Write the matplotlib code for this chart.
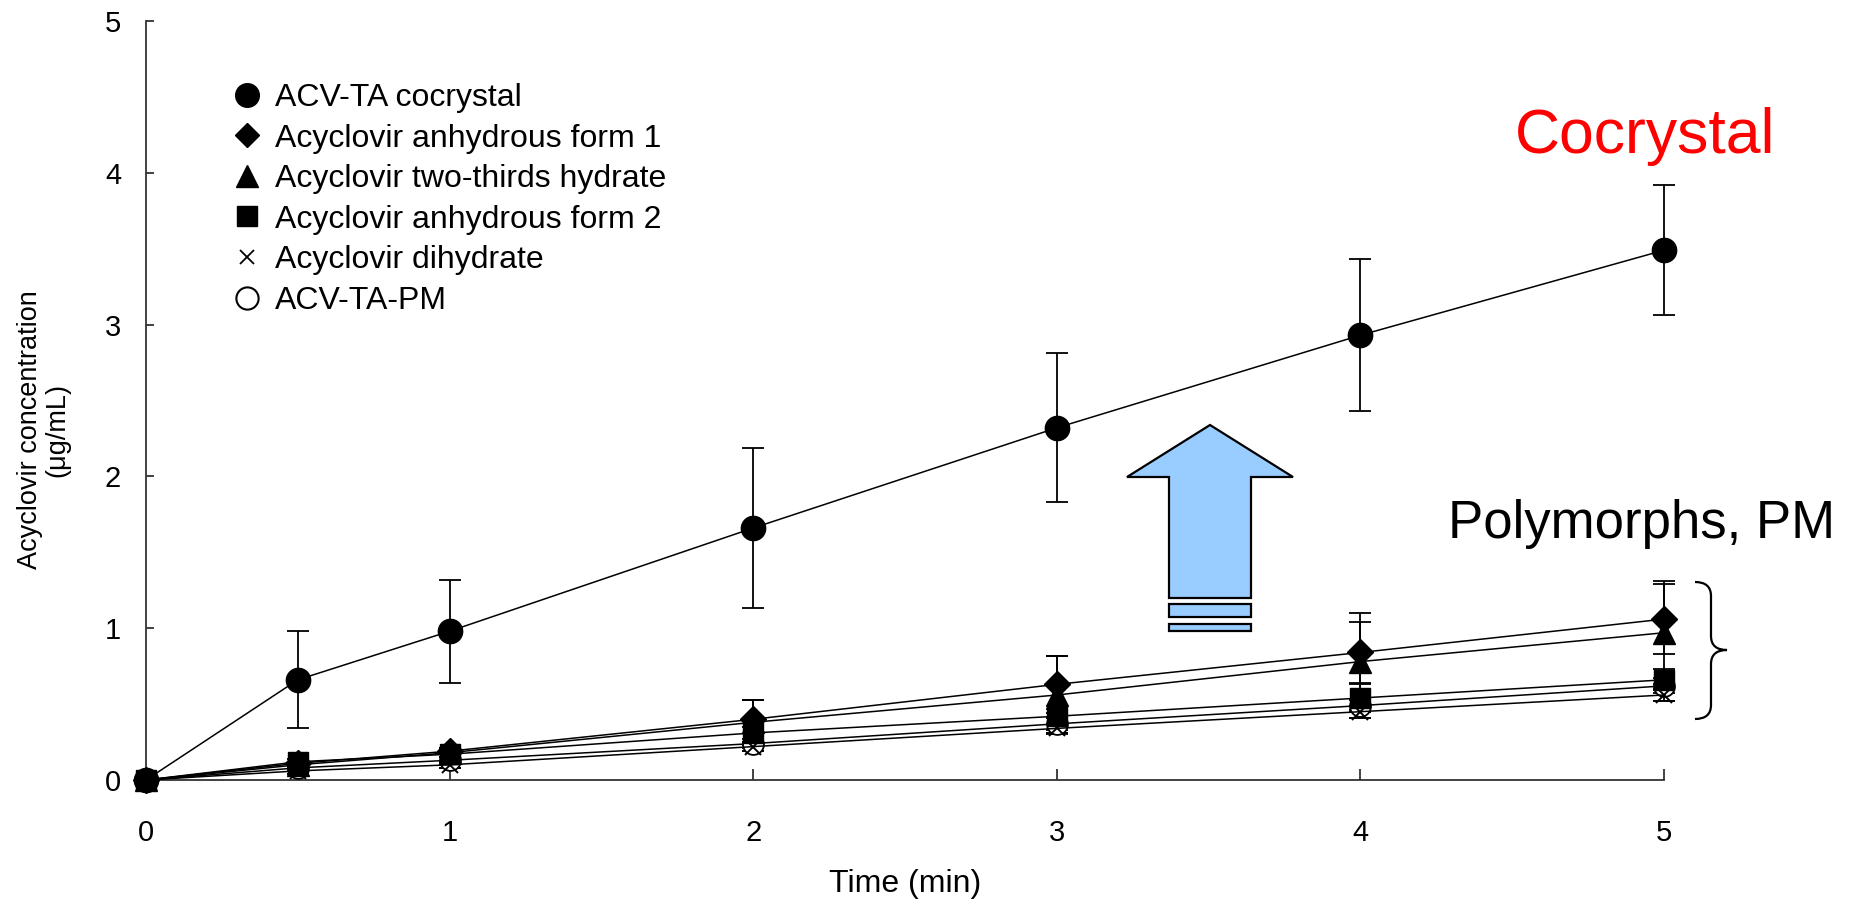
import matplotlib
matplotlib.use("Agg")
import matplotlib.pyplot as plt
from matplotlib.lines import Line2D
from matplotlib.patches import Polygon, Rectangle, PathPatch
from matplotlib.path import Path

plt.rcParams['font.family'] = ['Liberation Sans', 'DejaVu Sans']

# Dissolution time points (min)
time_min = [0, 0.5, 1, 2, 3, 4, 5]

# Acyclovir concentration (ug/mL) and standard deviations
cocrystal = [0, 0.66, 0.98, 1.66, 2.32, 2.93, 3.49]
cocrystal_sd = [0, 0.32, 0.34, 0.53, 0.49, 0.50, 0.43]

anhydrous1 = [0, 0.11, 0.19, 0.40, 0.63, 0.84, 1.06]
anhydrous1_sd = [0, 0.01, 0.02, 0.13, 0.19, 0.20, 0.23]

two_thirds = [0, 0.10, 0.18, 0.38, 0.56, 0.78, 0.97]
two_thirds_sd = [0, 0.01, 0.03, 0.15, 0.26, 0.32, 0.34]

anhydrous2 = [0, 0.12, 0.17, 0.31, 0.42, 0.54, 0.66]
anhydrous2_sd = [0, 0.02, 0.02, 0.04, 0.05, 0.09, 0.07]

dihydrate = [0, 0.06, 0.10, 0.22, 0.34, 0.45, 0.56]
dihydrate_sd = [0, 0.02, 0.02, 0.03, 0.03, 0.04, 0.04]

physical_mix = [0, 0.08, 0.13, 0.24, 0.37, 0.49, 0.62]
physical_mix_sd = [0, 0.02, 0.02, 0.03, 0.04, 0.04, 0.05]

labels = ["ACV-TA cocrystal", "Acyclovir anhydrous form 1",
          "Acyclovir two-thirds hydrate", "Acyclovir anhydrous form 2",
          "Acyclovir dihydrate", "ACV-TA-PM"]

x_ticks = [0, 1, 2, 3, 4, 5]
y_ticks = [0, 1, 2, 3, 4, 5]

W, H = 1861, 905
fig = plt.figure(figsize=(W / 100, H / 100), dpi=100)
ax = fig.add_axes([146 / W, 1 - 780 / H, (1664 - 146) / W, (780 - 21) / H])

series = [
    (cocrystal, cocrystal_sd, dict(marker='o', ms=17.5, mfc='black', mec='black')),
    (physical_mix, physical_mix_sd, dict(marker='o', ms=15, mfc='white', mec='black', mew=1.3)),
    (dihydrate, dihydrate_sd, dict(marker='x', ms=12, mec='black', mew=1.4)),
    (anhydrous2, anhydrous2_sd, dict(marker='s', ms=14, mfc='black', mec='black')),
    (two_thirds, two_thirds_sd, dict(marker='^', ms=16, mfc='black', mec='black')),
    (anhydrous1, anhydrous1_sd, dict(marker='D', ms=13, mfc='black', mec='black')),
]

for vals, sd, style in series:
    ax.errorbar(time_min, vals, yerr=sd, color='black', lw=1.1,
                elinewidth=1.3, capsize=8, capthick=1.3, clip_on=False,
                zorder=3, **style)

ax.set_xlim(0, 5)
ax.set_ylim(0, 5)
ax.set_xticks(x_ticks)
ax.set_yticks(y_ticks)
ax.spines['top'].set_visible(False)
ax.spines['right'].set_visible(False)
for s in ('left', 'bottom'):
    ax.spines[s].set_color('#333333')
    ax.spines[s].set_linewidth(1.3)
ax.tick_params(axis='x', direction='in', length=8, width=1.3, color='#333333',
               pad=28, labelsize=21)
ax.tick_params(axis='y', direction='in', length=6, width=1.3, color='#333333',
               pad=18, labelsize=21)

ax.set_xlabel("Time (min)", fontsize=23, labelpad=16)
ax.set_ylabel("Acyclovir concentration\n(\u03bcg/mL)", fontsize=19.5,
              linespacing=1.05)
ax.yaxis.set_label_coords(-0.05, 0.461)

# Legend with marker-only handles
handles = [
    Line2D([], [], ls='none', marker='o', ms=17, mfc='black', mec='black'),
    Line2D([], [], ls='none', marker='D', ms=12, mfc='black', mec='black'),
    Line2D([], [], ls='none', marker='^', ms=16, mfc='black', mec='black'),
    Line2D([], [], ls='none', marker='s', ms=14, mfc='black', mec='black'),
    Line2D([], [], ls='none', marker='x', ms=10, mec='black', mew=1.3),
    Line2D([], [], ls='none', marker='o', ms=16, mfc='white', mec='black', mew=1.5),
]
fig.legend(handles, labels, loc='upper left',
           bbox_to_anchor=(231 / W, 1 - 83 / H), bbox_transform=fig.transFigure,
           frameon=False, fontsize=23, handlelength=1.0, handletextpad=0.38,
           labelspacing=0.33, borderpad=0, borderaxespad=0)

# Annotations
fig.text(1645 / W, 1 - 136 / H, "Cocrystal", color='#ff0000', fontsize=45,
         ha='center', va='center')
fig.text(1642 / W, 1 - 524 / H, "Polymorphs, PM", color='black', fontsize=38,
         ha='center', va='center')


def fp(x, y):
    return (x / W, 1 - y / H)


arrow_pts = [fp(1169, 598), fp(1169, 477), fp(1127, 477), fp(1210, 425),
             fp(1293, 477), fp(1251, 477), fp(1251, 598)]
fig.add_artist(Polygon(arrow_pts, closed=True, facecolor='#99ccff',
                       edgecolor='black', lw=1.6, transform=fig.transFigure))
for y0, y1 in ((604, 617), (623.5, 630.5)):
    fig.add_artist(Rectangle(fp(1169, y1), 82 / W, (y1 - y0) / H,
                             facecolor='#99ccff', edgecolor='black', lw=1.6,
                             transform=fig.transFigure))

# Curly brace grouping the polymorph curves
bx0, bx1, bx2 = 1695, 1711, 1727
by_top, by_mid, by_bot = 582, 650, 719
verts = [fp(bx0, by_top), fp(bx1, by_top), fp(bx1, by_top + 14),
         fp(bx1, by_mid - 14), fp(bx1, by_mid), fp(bx2, by_mid),
         fp(bx1, by_mid), fp(bx1, by_mid + 14),
         fp(bx1, by_bot - 14), fp(bx1, by_bot), fp(bx0, by_bot)]
codes = [Path.MOVETO, Path.CURVE3, Path.CURVE3,
         Path.LINETO, Path.CURVE3, Path.CURVE3,
         Path.CURVE3, Path.CURVE3,
         Path.LINETO, Path.CURVE3, Path.CURVE3]
fig.add_artist(PathPatch(Path(verts, codes), facecolor='none', edgecolor='black',
                         lw=1.6, transform=fig.transFigure))

fig.savefig("out.png", dpi=100)
